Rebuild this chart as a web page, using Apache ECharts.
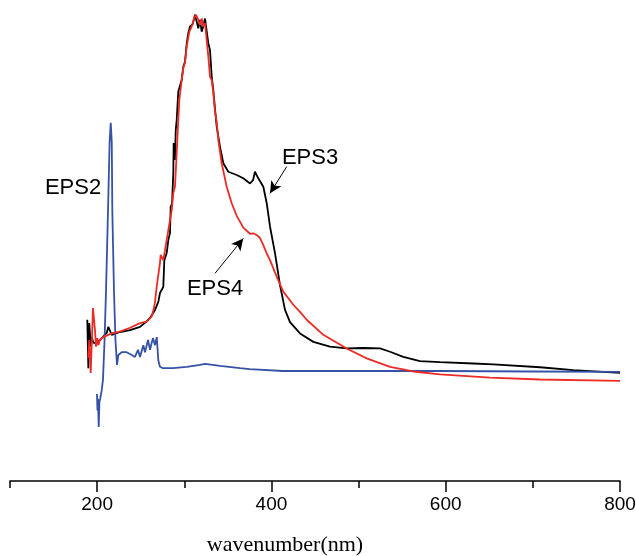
<!DOCTYPE html>
<html>
<head>
<meta charset="utf-8">
<script src="https://cdn.jsdelivr.net/npm/echarts@6/dist/echarts.min.js"></script>
<style>html,body{margin:0;padding:0;background:#fff}#c{width:636px;height:556px}</style>
</head>
<body>
<div id="c"></div>
<script>
// wavelength (nm), absorbance (arbitrary units)
const eps2 = [[199.8,18.5],[200.4,15.0],[201.0,17.5],[201.8,11.5],[202.6,16.8],[203.5,17.5],[205.0,19.0],[206.7,21.5],[208.5,30.0],[210.2,40.6],[212.5,57.7],[214.3,72.0],[215.6,76.2],[216.8,72.0],[217.4,57.7],[219.3,40.6],[221.0,30.0],[222.8,24.7],[224.3,26.8],[228.2,27.4],[233.9,27.4],[239.7,26.8],[243.4,26.4],[246.9,27.9],[249.2,26.4],[253.0,28.9],[254.9,27.4],[258.4,30.0],[260.7,27.9],[262.6,29.4],[264.1,30.4],[266.4,28.9],[268.4,30.6],[270.2,25.7],[272.1,24.3],[275.6,24.0],[287,24.0],[303,24.3],[318,24.7],[324,24.9],[341,24.5],[364,24.0],[375,23.8],[413,23.4],[490,23.4],[594,23.4],[700,23.3],[800,23.2]];
const eps3 = [[188.7,34.3],[189.9,24.0],[191.0,33.6],[192.6,28.6],[193.7,30.7],[195.6,29.4],[199.5,29.4],[203.3,30.0],[211.0,31.5],[212.8,32.8],[214.0,33.2],[216.7,31.1],[226.2,31.7],[237.7,32.1],[249.2,32.8],[256.9,34.0],[260.7,34.7],[262.6,34.7],[266.4,36.4],[270.2,38.1],[272.1,40.0],[275.9,41.3],[277.1,47.0],[279.8,48.5],[281.7,51.3],[283.6,52.8],[284.4,58.4],[285.9,58.9],[287.4,65.5],[287.8,71.9],[289.3,68.3],[290.2,74.7],[291.3,76.8],[293.1,82.8],[297.0,85.3],[298.9,88.2],[300.8,89.2],[302.8,93.1],[304.6,95.3],[306.6,96.7],[309.7,97.2],[312.3,99.2],[314.2,98.8],[316.1,96.3],[318.0,98.1],[320.0,95.6],[321.8,96.8],[323.8,98.4],[325.7,98.4],[327.6,93.1],[329.5,91.7],[331.5,86.0],[333.3,83.2],[335.3,79.1],[337.2,75.4],[341.0,71.1],[344.8,67.6],[350.5,65.8],[360.2,65.1],[367.7,64.4],[375.4,63.3],[378.9,64.0],[381.1,65.8],[384.9,64.4],[390.7,62.6],[394.6,59.1],[398.4,54.1],[404.1,48.5],[409.8,41.7],[415.6,36.4],[421.3,33.8],[432.8,31.4],[448.1,29.6],[467.2,28.6],[486.4,28.2],[505.4,28.3],[524.6,28.2],[536.1,27.5],[551.3,26.4],[570.5,25.5],[593.5,25.3],[631.7,25.0],[654.6,24.8],[708.2,24.2],[746.4,23.6],[800,23.0]];
const eps4 = [[189.9,26.2],[191.0,30.0],[192.6,23.0],[193.7,28.6],[195.2,36.8],[196.4,37.0],[197.5,32.1],[198.7,28.6],[200.2,30.4],[201.3,28.9],[203.3,30.0],[207.1,30.6],[212.8,31.1],[218.5,31.5],[226.2,31.8],[237.7,32.6],[249.2,33.6],[256.9,33.9],[262.6,35.0],[265.2,36.8],[266.4,38.1],[268.3,41.3],[272.1,46.4],[272.9,48.1],[275.9,47.0],[277.9,49.1],[279.8,51.3],[283.6,55.5],[285.6,57.7],[287.4,61.3],[289.3,62.6],[290.5,66.9],[292.0,72.6],[293.1,76.8],[294.3,81.1],[297.0,85.3],[298.9,87.9],[300.8,88.9],[302.8,92.4],[305.8,95.6],[308.5,96.7],[311.1,98.4],[313.4,99.2],[316.1,98.1],[318.0,97.0],[320.0,98.4],[321.8,96.7],[323.8,97.4],[325.7,93.8],[327.6,90.3],[329.5,86.0],[331.5,85.3],[333.3,82.5],[335.3,78.5],[337.2,76.4],[339.0,72.6],[342.9,67.6],[348.7,62.6],[354.4,59.1],[360.2,56.4],[367.7,53.9],[375.4,52.6],[379.2,52.7],[381.1,53.1],[383.4,52.3],[386.9,51.7],[390.7,50.2],[394.6,48.4],[398.4,47.0],[406.0,43.5],[413.6,40.3],[425.1,37.5],[432.8,36.0],[440.5,34.3],[459.5,31.1],[486.4,28.2],[509.3,26.1],[536.1,24.3],[562.8,23.3],[593.5,22.7],[650.8,22.0],[708.2,21.6],[800,21.3]];
const majorTicks = [200, 400, 600, 800];
const minorTicks = [100, 300, 500, 700];
const xName = 'wavenumber(nm)';
const labels = [
  {name: 'EPS2', at: [172.3, 62.3]},
  {name: 'EPS3', at: [444.3, 68.7]},
  {name: 'EPS4', at: [335.3, 40.8]}
];
const arrows = [
  {from: [417.5, 66.9], to: [398.4, 61.2]},
  {from: [335.3, 44.2], to: [367.7, 51.6]}
];

const chart = echarts.init(document.getElementById('c'), null, {renderer: 'canvas'});
const grid = {left: 10, right: 16, top: 11, bottom: 75, containLabel: false, outerBoundsMode: 'none'};
chart.setOption({
  animation: false,
  backgroundColor: '#fff',
  grid: grid,
  xAxis: [{
    type: 'value', min: 100, max: 800,
    axisLine: {show: true, lineStyle: {color: '#000', width: 1.5}},
    axisTick: {show: true, customValues: majorTicks, length: 11, lineStyle: {color: '#000', width: 1.5}},
    axisLabel: {show: true, customValues: majorTicks, color: '#000', fontSize: 19, fontFamily: 'Liberation Sans, Arial', margin: 14},
    splitLine: {show: false},
    name: xName, nameLocation: 'middle', nameGap: 53,
    nameTextStyle: {fontFamily: 'Liberation Serif, Times New Roman', fontSize: 22, color: '#000', padding: [0, 60, 0, 0]}
  }, {
    type: 'value', min: 100, max: 800, position: 'bottom',
    axisLine: {show: false},
    axisTick: {show: true, customValues: minorTicks, length: 7, lineStyle: {color: '#000', width: 1.5}},
    axisLabel: {show: false},
    splitLine: {show: false}
  }],
  yAxis: {type: 'value', min: 0, max: 100, show: false},
  series: [
    {type: 'line', name: 'EPS2', data: eps2, showSymbol: false, lineStyle: {color: '#3552a6', width: 1.8}, z: 3,
      markLine: {
        silent: true, symbol: ['none', 'arrow'], symbolSize: [9, 12],
        lineStyle: {color: '#000', width: 1, type: 'solid'}, label: {show: false},
        data: arrows.map(a => [{coord: a.from}, {coord: a.to}])
      },
      markPoint: {
        silent: true, symbol: 'rect', symbolSize: 1, itemStyle: {color: 'rgba(0,0,0,0)'},
        label: {show: true, position: 'inside', color: '#000', fontSize: 22, fontFamily: 'Liberation Sans, Arial', formatter: p => p.name},
        data: labels.map(l => ({name: l.name, coord: l.at}))
      }
    },
    {type: 'line', name: 'EPS3', data: eps3, showSymbol: false, lineStyle: {color: '#000', width: 1.8}, z: 2},
    {type: 'line', name: 'EPS4', data: eps4, showSymbol: false, lineStyle: {color: '#ee2b25', width: 1.8}, z: 4}
  ]
});
</script>
</body>
</html>
